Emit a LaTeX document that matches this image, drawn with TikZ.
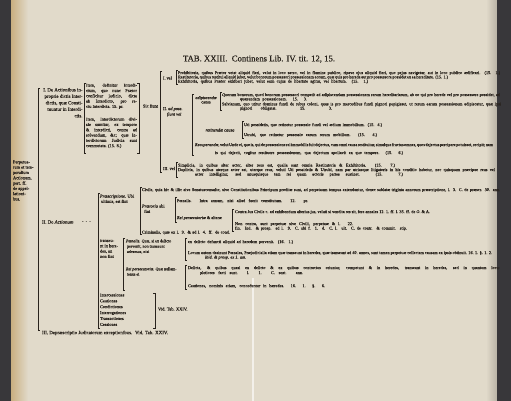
\documentclass[tikz,border=0pt]{standalone}
\usepackage{fontspec}
\setmainfont{Liberation Serif}[FakeBold=0.35]
\definecolor{paper}{RGB}{225,218,202}
\definecolor{ink}{RGB}{40,34,28}
\definecolor{edge}{RGB}{56,55,58}
\definecolor{tanb}{RGB}{200,172,124}
\newcommand\fa{\fontsize{4.25}{4.4}\selectfont}
\newcommand\fb{\fontsize{4.4}{5.3}\selectfont}
\newcommand\fc{\fontsize{4.9}{6.5}\selectfont}
\newcommand\jl[2]{\hbox to #1pt{\spaceskip=.25em plus 4em minus .14em\relax #2}}
\newcommand\brkL[3]{\draw[brk] (#1+2,#2) -- (#1,#2) -- (#1,#3) -- (#1+2,#3);}
\newcommand\brkR[3]{\draw[brk] (#1-2,#2) -- (#1,#2) -- (#1,#3) -- (#1-2,#3);}
\tikzset{
  txt/.style={inner sep=0, outer sep=0, text=ink, font=\fa, anchor=west},
  lab/.style={inner sep=0, outer sep=0, text=ink, font=\fb, anchor=west},
  blk/.style={inner sep=0, outer sep=0, text=ink, font=\fb, anchor=north west, align=left},
  brk/.style={draw=ink, line width=0.5pt}
}
\begin{document}
\begin{tikzpicture}[x=1pt,y=-1pt]
% paper and edges
\fill[paper] (0,0) rectangle (511,401);
\useasboundingbox (0,0) rectangle (511,401);
\shade[left color=tanb, right color=paper] (10,0) rectangle (28,401);
\fill[edge] (0,0) rectangle (11,401);
\shade[left color=paper, right color=paper!82!black] (486,0) rectangle (497,401);
\fill[edge] (497,0) rectangle (511,401);
\draw[white!60!paper, line width=1.2pt] (253,278) -- (253,401);

% title
\node[inner sep=0, text=ink, font=\fontsize{8.7}{9}\selectfont] (title) at (259,59) {TAB. XXIII.\ \ Continens Lib. IV. tit. 12, 15.};

% root
\node[blk, anchor=north west] (root) at (13,160.5) {Perpetua-\\rum et tem-\\poralium\\Actionum,\\pert. ff.\\de appel-\\lationi-\\bus.};

% level 1 bracket
\brkL{38}{88}{330}

% I
\node[blk, font=\fc, align=right, anchor=north east] (b1) at (82.5,88) {I. De Actionibus in-\\proprie dictis Inter-\\dictis, quæ Consti-\\tuuntur in Interdi-\\ctis.};
\brkL{84}{83}{153}
\node[blk] (item1) at (86,83.6) {\jl{51}{Item, definitur Interdi-}\\\jl{51}{ctum, quo nunc Prætor}\\\jl{51}{conficitur judicio, dicta}\\\jl{51}{ab Interdicto, pro re-}\\ctu Interdicta. 15. pr.};
\node[blk] (item2) at (86,117.6) {\jl{51}{Item, Interdictorum divi-}\\\jl{51}{sio sumitur, ex tempore}\\\jl{51}{\& interdicti, contra ad}\\\jl{51}{solvendum, \&c; quæ In-}\\\jl{51}{terdictorum Judicia sunt}\\commutata. (15. 8.)};
\brkR{139}{83}{153}
\node[lab] (sic) at (143,106) {Sic fiunt};
\brkL{160}{71}{172}

% I vel
\node[lab] (ivel) at (163,78) {I. vel};
\brkL{176}{70.5}{84}
\node[txt] (a1) at (178,73) {\jl{322}{Prohibitoria, quibus Prætor vetat aliquid fieri, velut in loco sacro, vel in flumine publico, ripave ejus aliquid fieri, quo pejus navigetur, aut in loco publico ædificari. (15. 1.)}};
\node[txt] (a2) at (178,77.3) {\jl{270}{Restitutoria, quibus restitui aliquid jubet, velut bonorum possessori possessionem eorum, quæ quis pro herede aut pro possessore possidet ex ea hereditate. (15. 1.)}};
\node[txt] (a3) at (178,81.6) {\jl{190}{Exhibitoria, quibus Prætor exhiberi jubet, velut eum cujus de libertate agitur, vel libertum. (15. 1.)}};

% II ad possess
\node[lab] (iivel) at (163,109) {II. \textit{ad poss.}};
\node[lab] (iivel2) at (167,114.5) {\textit{fiunt vel}};
\brkL{192}{94}{155}
\node[txt, align=center, anchor=center] (adip) at (206,99.8) {\textit{adipiscendæ}\\causa};
\brkL{220}{92.5}{110.5}
\node[txt] (b1l) at (222,95) {\jl{278}{Quorum bonorum, quod bonorum possessori competit ad adipiscendam possessionem rerum hereditariarum, ab eo qui pro herede vel pro possessore possidet, ad}};
\node[txt] (b2l) at (240,99.3) {\jl{67}{quærendam possessionem. 15. 3.}};
\node[txt] (b3l) at (222,104.3) {\jl{279}{Salvianum, quo utitur dominus fundi de rebus coloni, quas is pro mercedibus fundi pignori pepigisset, ut rerum earum possessionem adipiscatur, quæ ipsi}};
\node[txt] (b4l) at (240,108.5) {\jl{92}{pignori obligatæ. 15. 3.}};
\node[lab, anchor=center] (ret) at (220,130) {\textit{retinendæ causa}};
\brkL{242}{121.5}{138.5}
\node[txt] (c1) at (244,125) {\jl{138}{Uti possidetis, quo retinetur possessio fundi vel ædium immobilium. (15. 4.)}};
\node[txt] (c2) at (244,135) {\jl{133}{Utrubi, quo retinetur possessio earum rerum mobilium. (15. 4.)}};
\node[txt] (d1) at (195,145) {\jl{298}{\textit{Recuperandæ}, velut Unde vi, quo is, qui de possessione rei immobilis fuit dejectus, cum omni causa restituitur, simulque fructus omnes, quos dejectus percipere potuisset, recipit; nam}};
\node[txt] (d2) at (215,153) {\jl{188}{is qui dejecit, cogitur restituere possessionem, qua dejectum spoliavit ex quo tempore. (15. 6.)}};

% III vel
\node[lab] (iiivel) at (163,168.5) {III. vel};
\brkL{176}{162.5}{177}
\node[txt] (e1) at (178,165.5) {\jl{217}{Simplicia, in quibus alter actor, alter reus est, qualia sunt omnia Restitutoria \& Exhibitoria. (15. 7.)}};
\node[txt] (e2) at (178,170) {\jl{317}{Duplicia, in quibus uterque actor est, uterque reus, veluti Uti possidetis \& Utrubi, nam par utriusque litigatoris in his conditio habetur, nec quisquam præcipue reus vel}};
\node[txt] (e3) at (195,174.5) {\jl{208}{actor intelligitur, sed unusquisque tam rei quam actoris partes sustinet. (15. 7.)}};

% II De Actionum
\node[lab, font=\fc] (ii) at (42,222) {II. De \textit{Actionum}};
\node[lab] (dots) at (82,222) {-\ \ -\ \ -};
\brkL{98}{193}{328}
\node[blk, anchor=north west] (prae) at (100,194.5) {\textit{Præscriptione.} Ubi\\ \ ultimis, est fint};
\brkL{140}{187}{234.5}
\node[txt] (f1) at (142,190) {\jl{358}{Civile, quia hic \& illic sive Senatusconsulto, sive Constitutionibus Principum proditæ sunt, ad perpetuum tempus extenduntur, donec sublatæ triginta annorum præscriptione, l. 3. C. de præscr. 30. ann.}};
\node[blk, anchor=north west] (praet) at (142,204.5) {\textit{Prætoria} ubi\\ \ \ fiat};
\brkL{175}{197.5}{222}
\node[txt] (g1) at (177,201) {\jl{131}{Pœnalis. Intra annum, nisi aliud fuerit constitutum. 12. pr.}};
\node[txt] (g2) at (177,218) {\textit{Rei persecutoriæ} \& alteræ};
\brkL{232}{209.5}{231}
\node[txt] (h1) at (235,212) {\jl{195}{Contra Jus Civile c. ad exhibendum alterius jus, veluti si vendita res sit, fere annales 12. 1. ff. l. 35. ff. de O. \& A.}};
\node[txt] (h2) at (235,224) {\jl{118}{Non contra, sunt perpetuæ sive Civili, perpetuæ \& l. 22.}};
\node[txt] (h3) at (235,228.5) {\jl{172}{fin. Ind. \& prosp. ad l. 9. C. ubi f. 1. d. C. l. ult. C. de contr. \& commit. stip.}};
\node[txt] (g3) at (142,232.5) {\jl{88}{Criminalis, quæ ex l. 9. \& ad l. 4. ff. de cond.}};

\node[blk, anchor=north west] (trans) at (100,239.5) {transeu-\\nt in here-\\des, an\\non fint};
\brkL{123}{238}{290}
\node[blk, anchor=north west, font=\fontsize{4.1}{5.3}\selectfont] (poen) at (126,239.5) {\textit{Pœnalis.} Quæ, si ex delicto\\ \ pervenit, non transeunt\\ \ adversus, nisi};
\brkL{185}{238.5}{260.5}
\node[txt] (k1) at (188,242) {\jl{105}{ex delicto defuncti aliquid ad heredem pervenit. (16. 1.)}};
\node[txt] (k2) at (188,253) {\jl{304}{Locum autem desinunt Pœnales, Præjudicialia etiam quæ transeunt in heredes, quæ transeunt ad 40. annos, sunt tamen perpetuæ collectam causam ex ipsis obtinuit. 16. 1. §. 1. 2.}};
\node[txt] (k3) at (205,257.5) {\textit{ibid. \& prosp. ex 1. am.}};
\node[blk, anchor=north west, font=\fontsize{4.0}{5.3}\selectfont] (reip) at (126,267.5) {\textit{Rei persecutoriæ.} Quæ nullam-\\ \ tenus ei};
\brkL{185}{265}{289}
\node[txt] (m1) at (188,268) {\jl{312}{Delicta, \& quibus quasi ex delicto \& ex quibus contractus oriuntur, competunt \& in heredes, transeunt in heredes, sed in quantum locu-}};
\node[txt] (m2) at (200,273) {\jl{103}{pletiores facti sunt. l. 1. C. sext. ann.}};
\node[txt] (m3) at (188,286) {\jl{137}{Cautiones, nominis etiam, conceduntur in hæredes. 16. 1. §. 6.}};

\node[blk, anchor=north west, font=\fontsize{4.3}{5.9}\selectfont] (list) at (100,293.5) {Intercessiones\\Cautiones\\Condictiones\\Interrogationes\\Transactiones\\Cessiones};
\brkR{155}{293}{328}
\node[lab] (vid1) at (158,309) {Vid. Tab. XXIV.};

% III
\node[lab, font=\fc] (iii) at (42,333) {III. Depræscriptio Judicatorum exceptionibus. \ Vid. Tab. XXIV.};
\end{tikzpicture}
\end{document}
